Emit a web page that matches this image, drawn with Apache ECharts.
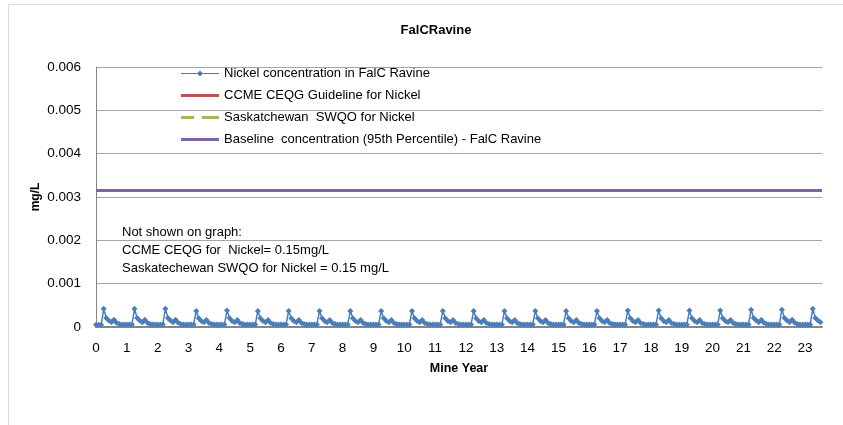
<!DOCTYPE html>
<html>
<head>
<meta charset="utf-8">
<script src="https://cdn.jsdelivr.net/npm/echarts@6/dist/echarts.min.js"></script>
<style>
html,body{margin:0;padding:0;background:#fff;}
#chart{width:843px;height:425px;}
</style>
</head>
<body>
<div id="chart"></div>
<script>
// ---- data ----
var chartTitle = 'FalCRavine';
var xAxisName = 'Mine Year';
var yAxisName = 'mg/L';
var monthsPerYear = 12;
// Nickel concentration in FalC Ravine, monthly values (mg/L), one row per mine year
var nickelMonthly = [
  0.00005,0.00005,0.00005,0.00042,0.00021,0.00015,0.00011,0.00017,0.00010,0.00007,0.00006,0.00006,
  0.00006,0.00006,0.00006,0.00042,0.00021,0.00015,0.00011,0.00017,0.00010,0.00007,0.00006,0.00006,
  0.00006,0.00006,0.00006,0.00042,0.00021,0.00015,0.00011,0.00017,0.00010,0.00007,0.00006,0.00006,
  0.00006,0.00006,0.00006,0.00037,0.00020,0.00014,0.00011,0.00016,0.00009,0.00007,0.00006,0.00006,
  0.00006,0.00006,0.00006,0.00038,0.00020,0.00014,0.00011,0.00016,0.00009,0.00007,0.00006,0.00006,
  0.00006,0.00006,0.00006,0.00037,0.00020,0.00014,0.00011,0.00016,0.00009,0.00007,0.00006,0.00006,
  0.00006,0.00006,0.00006,0.00037,0.00020,0.00014,0.00011,0.00016,0.00009,0.00007,0.00006,0.00006,
  0.00006,0.00006,0.00006,0.00037,0.00020,0.00014,0.00011,0.00016,0.00009,0.00007,0.00006,0.00006,
  0.00006,0.00006,0.00006,0.00037,0.00020,0.00014,0.00011,0.00016,0.00009,0.00007,0.00006,0.00006,
  0.00006,0.00006,0.00006,0.00037,0.00020,0.00014,0.00011,0.00016,0.00009,0.00007,0.00006,0.00006,
  0.00006,0.00006,0.00006,0.00037,0.00020,0.00014,0.00011,0.00016,0.00009,0.00007,0.00006,0.00006,
  0.00006,0.00006,0.00006,0.00037,0.00020,0.00014,0.00011,0.00016,0.00009,0.00007,0.00006,0.00006,
  0.00006,0.00006,0.00006,0.00037,0.00020,0.00014,0.00011,0.00016,0.00009,0.00007,0.00006,0.00006,
  0.00006,0.00006,0.00006,0.00037,0.00020,0.00014,0.00011,0.00016,0.00009,0.00007,0.00006,0.00006,
  0.00006,0.00006,0.00006,0.00037,0.00020,0.00014,0.00011,0.00016,0.00009,0.00007,0.00006,0.00006,
  0.00006,0.00006,0.00006,0.00037,0.00020,0.00014,0.00011,0.00016,0.00009,0.00007,0.00006,0.00006,
  0.00006,0.00006,0.00006,0.00037,0.00020,0.00014,0.00011,0.00016,0.00009,0.00007,0.00006,0.00006,
  0.00006,0.00006,0.00006,0.00038,0.00020,0.00014,0.00011,0.00016,0.00009,0.00007,0.00006,0.00006,
  0.00006,0.00006,0.00006,0.00038,0.00020,0.00014,0.00011,0.00016,0.00009,0.00007,0.00006,0.00006,
  0.00006,0.00006,0.00006,0.00038,0.00020,0.00014,0.00011,0.00016,0.00009,0.00007,0.00006,0.00006,
  0.00006,0.00006,0.00006,0.00038,0.00020,0.00014,0.00011,0.00016,0.00009,0.00007,0.00006,0.00006,
  0.00006,0.00006,0.00006,0.00040,0.00021,0.00015,0.00011,0.00017,0.00010,0.00007,0.00006,0.00006,
  0.00006,0.00006,0.00006,0.00040,0.00021,0.00015,0.00011,0.00017,0.00010,0.00007,0.00006,0.00006,
  0.00006,0.00006,0.00006,0.00042,0.00021,0.00015,0.00011
];
var ccmeGuideline = 0.15;        // mg/L, off the plotted range
var saskSwqo = 0.15;             // mg/L, off the plotted range
var baselineP95 = 0.00315;       // mg/L
var xMin = 0, xMax = 23.55, xStep = 1;
var yMin = 0, yMax = 0.006, yStep = 0.001;
var seriesNames = [
  'Nickel concentration in FalC Ravine',
  'CCME CEQG Guideline for Nickel',
  'Saskatchewan  SWQO for Nickel',
  'Baseline  concentration (95th Percentile) - FalC Ravine'
];
var noteLines = [
  'Not shown on graph:',
  'CCME CEQG for  Nickel= 0.15mg/L',
  'Saskatechewan SWQO for Nickel = 0.15 mg/L'
];

// ---- build ----
var nickelData = nickelMonthly.map(function (v, i) { return [i / monthsPerYear, v]; });
function flat(v) { return [[xMin, v], [xMax, v]]; }

var FONT = "'Liberation Sans', Arial, sans-serif";
var ICON_MARKER = 'path://M0,3.5H16.5L19,1L21.5,3.5H38V4.5H21.5L19,7L16.5,4.5H0Z';
var ICON_SOLID = 'path://M0,0H38V3H0Z';
var ICON_DASH = 'path://M0,0H13V3H0Z M21,0H38V3H21Z';

var chart = echarts.init(document.getElementById('chart'), null, {renderer: 'canvas'});
chart.setOption({
  animation: false,
  backgroundColor: '#fff',
  title: {
    text: chartTitle, left: 431, top: 19, textAlign: 'center',
    textStyle: {fontFamily: FONT, fontSize: 13, fontWeight: 'bold', color: '#000'}
  },
  grid: {left: 96, right: 21, top: 67, bottom: 98, containLabel: false},
  legend: {
    orient: 'vertical', left: 176, top: 62, itemWidth: 38, itemHeight: 12, itemGap: 9,
    symbolKeepAspect: true,
    textStyle: {fontFamily: FONT, fontSize: 13, color: '#000'},
    data: [
      {name: seriesNames[0], icon: ICON_MARKER},
      {name: seriesNames[1], icon: ICON_SOLID},
      {name: seriesNames[2], icon: ICON_DASH},
      {name: seriesNames[3], icon: ICON_SOLID}
    ]
  },
  xAxis: {
    type: 'value', min: xMin, max: xMax, interval: xStep,
    name: xAxisName, nameLocation: 'middle', nameGap: 35,
    nameTextStyle: {fontFamily: FONT, fontSize: 12.5, fontWeight: 'bold', color: '#000'},
    axisLine: {show: true, lineStyle: {color: '#868686', width: 2}},
    axisTick: {show: false},
    splitLine: {show: false},
    axisLabel: {fontFamily: FONT, fontSize: 13.5, color: '#000', margin: 14, showMaxLabel: false}
  },
  yAxis: {
    type: 'value', min: yMin, max: yMax, interval: yStep,
    name: yAxisName, nameLocation: 'middle', nameGap: 54, nameRotate: 90, nameMoveOverlap: false,
    nameTextStyle: {fontFamily: FONT, fontSize: 12, fontWeight: 'bold', color: '#000'},
    axisLine: {show: true, lineStyle: {color: '#868686', width: 1}},
    axisTick: {show: false},
    splitLine: {show: true, lineStyle: {color: '#A6A6A6', width: 1}},
    axisLabel: {fontFamily: FONT, fontSize: 13.5, color: '#000', margin: 15,
      formatter: function (v) { return v === 0 ? '0' : v.toFixed(3); }}
  },
  series: [
    {
      name: seriesNames[0], type: 'line', data: nickelData,
      symbol: 'diamond', symbolSize: 6, showSymbol: true,
      lineStyle: {color: '#4A7EBB', width: 1.5},
      itemStyle: {color: '#4A7EBB'}, z: 5
    },
    {
      name: seriesNames[1], type: 'line', data: flat(ccmeGuideline), symbol: 'none',
      lineStyle: {color: '#C0504D', width: 3}, itemStyle: {color: '#C0504D'}, clip: true
    },
    {
      name: seriesNames[2], type: 'line', data: flat(saskSwqo), symbol: 'none',
      lineStyle: {color: '#9BBB59', width: 3, type: [9, 9]}, itemStyle: {color: '#9BBB59'}, clip: true
    },
    {
      name: seriesNames[3], type: 'line', data: flat(baselineP95), symbol: 'none',
      lineStyle: {color: '#8064A2', width: 3}, itemStyle: {color: '#8064A2'}
    }
  ],
  graphic: [
    {type: 'rect', shape: {x: 8.5, y: 4.5, width: 900, height: 500}, style: {fill: 'none', stroke: '#D9D9D9', lineWidth: 1}, silent: true},
    {type: 'text', left: 122, top: 225.5, style: {text: noteLines[0], font: '13px ' + FONT, fill: '#000'}},
    {type: 'text', left: 122, top: 244, style: {text: noteLines[1], font: '13px ' + FONT, fill: '#000'}},
    {type: 'text', left: 122, top: 261.5, style: {text: noteLines[2], font: '13px ' + FONT, fill: '#000'}}
  ]
});
</script>
</body>
</html>
